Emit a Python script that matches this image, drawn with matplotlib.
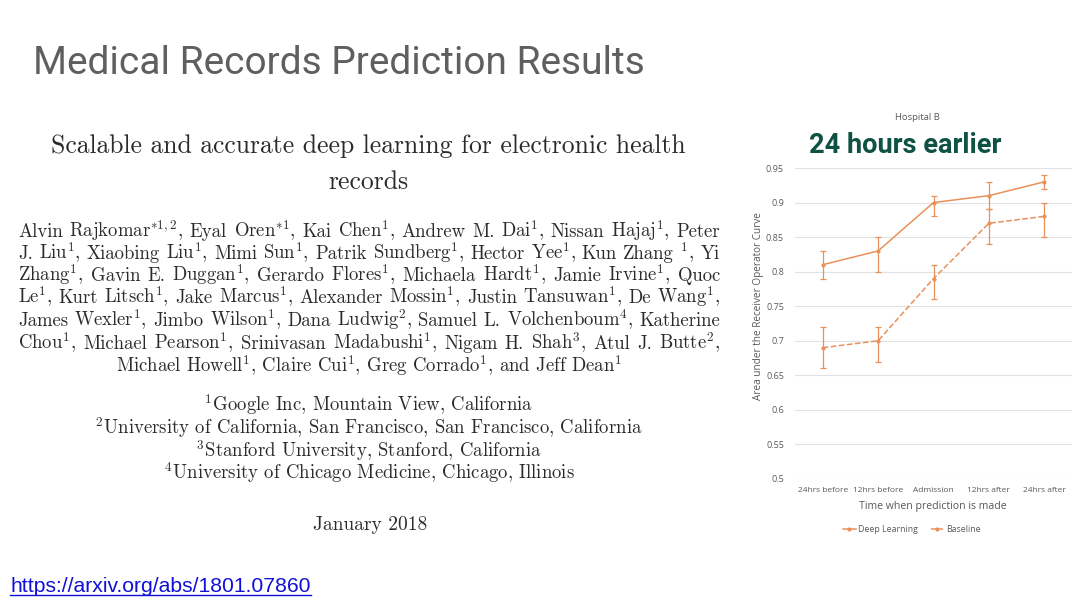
import matplotlib
matplotlib.use("Agg")
import matplotlib.pyplot as plt
from matplotlib.lines import Line2D

# ---------------- data ----------------
categories = ["24hrs before", "12hrs before", "Admission", "12hrs after", "24hrs after"]
dl_values = [0.81, 0.83, 0.90, 0.91, 0.93]
dl_low = [0.79, 0.80, 0.88, 0.89, 0.92]
dl_high = [0.83, 0.85, 0.91, 0.93, 0.94]
base_values = [0.69, 0.70, 0.79, 0.87, 0.88]
base_low = [0.66, 0.67, 0.76, 0.84, 0.85]
base_high = [0.72, 0.72, 0.81, 0.89, 0.90]
y_ticks = [0.5, 0.55, 0.6, 0.65, 0.7, 0.75, 0.8, 0.85, 0.9, 0.95]
y_tick_labels = ["0.5", "0.55", "0.6", "0.65", "0.7", "0.75", "0.8", "0.85", "0.9", "0.95"]

slide_title = "Medical Records Prediction Results"
paper_title = ["Scalable and accurate deep learning for electronic health", "records"]
author_lines = [
    r"Alvin Rajkomar$^{*1,2}$, Eyal Oren$^{*1}$, Kai Chen$^{1}$, Andrew M. Dai$^{1}$, Nissan Hajaj$^{1}$, Peter",
    r"J. Liu$^{1}$, Xiaobing Liu$^{1}$, Mimi Sun$^{1}$, Patrik Sundberg$^{1}$, Hector Yee$^{1}$, Kun Zhang $^{1}$, Yi",
    r"Zhang$^{1}$, Gavin E. Duggan$^{1}$, Gerardo Flores$^{1}$, Michaela Hardt$^{1}$, Jamie Irvine$^{1}$, Quoc",
    r"Le$^{1}$, Kurt Litsch$^{1}$, Jake Marcus$^{1}$, Alexander Mossin$^{1}$, Justin Tansuwan$^{1}$, De Wang$^{1}$,",
    r"James Wexler$^{1}$, Jimbo Wilson$^{1}$, Dana Ludwig$^{2}$, Samuel L. Volchenboum$^{4}$, Katherine",
    r"Chou$^{1}$, Michael Pearson$^{1}$, Srinivasan Madabushi$^{1}$, Nigam H. Shah$^{3}$, Atul J. Butte$^{2}$,",
]
author_last = r"Michael Howell$^{1}$, Claire Cui$^{1}$, Greg Corrado$^{1}$, and Jeff Dean$^{1}$"
affiliations = [
    r"$^{1}$Google Inc, Mountain View, California",
    r"$^{2}$University of California, San Francisco, San Francisco, California",
    r"$^{3}$Stanford University, Stanford, California",
    r"$^{4}$University of Chicago Medicine, Chicago, Illinois",
]
paper_date = "January 2018"
url = "https://arxiv.org/abs/1801.07860"

# ---------------- figure ----------------
plt.rcParams["mathtext.fontset"] = "cm"
W, H = 1080, 608
fig = plt.figure(figsize=(W / 100, H / 100), dpi=100)
fig.patch.set_facecolor("white")
renderer = fig.canvas.get_renderer()

def fx(px):
    return px / W

def fy(py):
    return 1 - py / H

SERIF = "cmr10"
PCOL = "#2b2b2b"
BODY = 13.5

# slide title
fig.text(fx(33), fy(63), slide_title, family="Roboto", fontsize=28, color="#5f5f5f",
         ha="left", va="center")

# paper title
for i, line in enumerate(paper_title):
    fig.text(fx(368), fy([153, 189][i]), line, family=SERIF, fontsize=18.5, color=PCOL,
             ha="center", va="baseline")

# justified author lines
def justified(line, base_y, x0, x1, size):
    words = line.split(" ")
    texts = [fig.text(0, fy(base_y), w, family=SERIF, fontsize=size, color=PCOL,
                      ha="left", va="baseline") for w in words]
    widths = [t.get_window_extent(renderer).width for t in texts]
    gap = (x1 - x0 - sum(widths)) / (len(words) - 1)
    x = x0
    for t, w in zip(texts, widths):
        t.set_x(fx(x))
        x += w + gap

author_base = [237, 259, 281, 303, 326, 349]
for line, by in zip(author_lines, author_base):
    justified(line, by, 18, 720, BODY)
fig.text(fx(369), fy(372), author_last, family=SERIF, fontsize=BODY, color=PCOL,
         ha="center", va="baseline")

for i, line in enumerate(affiliations):
    fig.text(fx(369), fy([411, 434, 457, 479][i]), line, family=SERIF, fontsize=BODY,
             color=PCOL, ha="center", va="baseline")

fig.text(fx(370), fy(530), paper_date, family=SERIF, fontsize=14, color=PCOL,
         ha="center", va="baseline")

# url with underline
ut = fig.text(fx(10), fy(592), url, family="Liberation Sans", fontsize=15.2, color="#1010d8",
              ha="left", va="baseline")
uw = ut.get_window_extent(renderer).width
fig.add_artist(Line2D([fx(10), fx(10 + uw)], [fy(595), fy(595)], color="#1010d8", lw=1.0))

# ---------------- chart ----------------
ORANGE = "#e8915a"
GREY = "#595959"
ax = fig.add_axes([fx(795), fy(479), fx(1072) - fx(795), fy(168) - fy(479)])
x = list(range(len(categories)))
dl_err = [[v - l for v, l in zip(dl_values, dl_low)], [h - v for v, h in zip(dl_values, dl_high)]]
b_err = [[v - l for v, l in zip(base_values, base_low)], [h - v for v, h in zip(base_values, base_high)]]
ax.errorbar(x, dl_values, yerr=dl_err, color=ORANGE, lw=1.1, marker="o", ms=2,
            capsize=2, elinewidth=0.9, capthick=0.9, zorder=3)
ax.errorbar(x, base_values, yerr=b_err, color=ORANGE, lw=1.1, ls="--", marker="o", ms=2,
            capsize=2, elinewidth=0.9, capthick=0.9, zorder=3)
ax.set_xlim(-0.5, 4.5)
ax.set_ylim(0.5, 0.95)
ax.set_yticks(y_ticks)
ax.set_yticklabels(y_tick_labels)
ax.set_xticks(x)
ax.set_xticklabels(categories)
ax.grid(axis="y", color="#e3e3e3", lw=0.8)
ax.set_axisbelow(True)
for s in ax.spines.values():
    s.set_visible(False)
ax.tick_params(axis="y", length=0, pad=8, labelsize=6.5, labelcolor=GREY)
ax.tick_params(axis="x", length=0, pad=6, labelsize=6.0, labelcolor=GREY)
for lab in ax.get_xticklabels() + ax.get_yticklabels():
    lab.set_family("Open Sans")

fig.text(fx(758), fy(306), "Area under the Receiver Operator Curve", rotation=90,
         family="Open Sans", fontsize=7.2, color=GREY, ha="center", va="center")
fig.text(fx(933), fy(507), "Time when prediction is made", family="Open Sans",
         fontsize=7.6, color=GREY, ha="center", va="center")
fig.text(fx(917), fy(117), "Hospital B", family="Open Sans", fontsize=6.8, color=GREY,
         ha="center", va="center")
fig.text(fx(905), fy(146), "24 hours earlier", family="Roboto", fontweight="bold",
         fontsize=19.5, color="#0d5243", ha="center", va="center")

handles = [Line2D([], [], color=ORANGE, lw=1.1, marker="o", ms=2),
           Line2D([], [], color=ORANGE, lw=1.1, ls="--", marker="o", ms=2)]
leg = fig.legend(handles, ["Deep Learning", "Baseline"], loc="center",
                 bbox_to_anchor=(fx(912), fy(530)), ncol=2, frameon=False,
                 handlelength=1.4, handletextpad=0.3, columnspacing=1.5,
                 labelcolor=GREY, prop={"family": "Open Sans", "size": 6.3})

fig.savefig("out.png", dpi=100, facecolor="white")
